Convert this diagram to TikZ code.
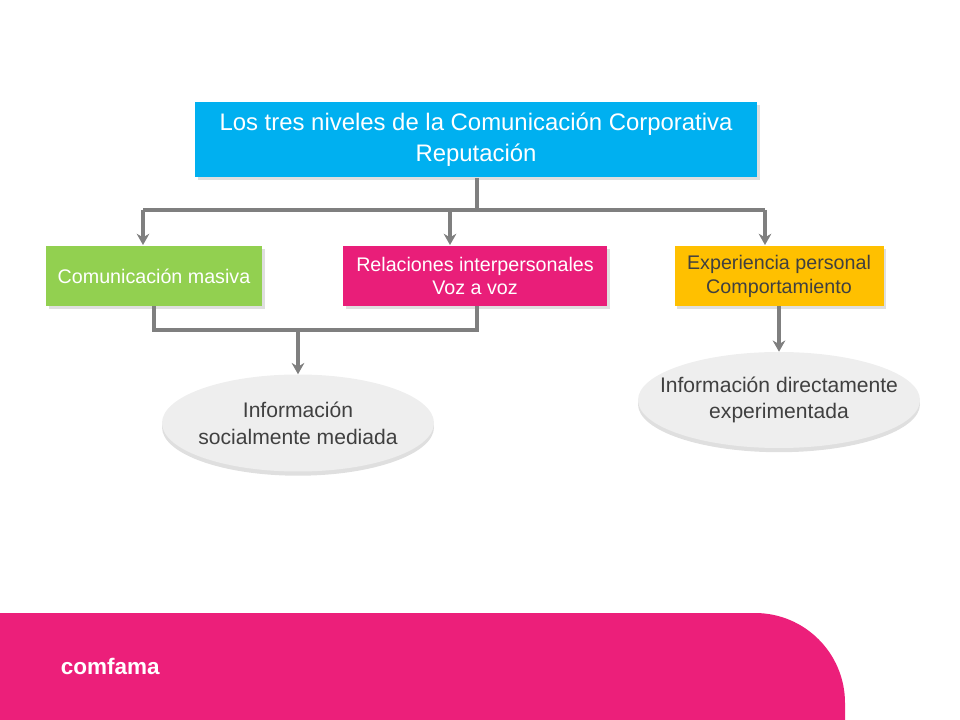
\documentclass[tikz,border=0pt]{standalone}
\usepackage{fontspec}
\setmainfont{Liberation Sans}
\usetikzlibrary{shapes.geometric, arrows.meta, positioning, shadows}
\definecolor{topcyan}{HTML}{00B0F0}
\definecolor{massgreen}{HTML}{92D050}
\definecolor{relpink}{HTML}{E91E79}
\definecolor{expgold}{HTML}{FFC000}
\definecolor{linegray}{HTML}{7F7F7F}
\definecolor{textgray}{HTML}{404040}
\definecolor{bandpink}{HTML}{EC1F7A}
\tikzset{
    levelbox/.style={
        rectangle, inner sep=2pt, align=center,
        drop shadow={shadow xshift=2pt, shadow yshift=-2pt, opacity=0.25},
        font=\fontsize{14}{17}\selectfont
    },
    infoell/.style={
        ellipse, fill=gray!13, inner sep=0pt,
        drop shadow={shadow xshift=0pt, shadow yshift=-3pt, opacity=0.25}
    },
    infotext/.style={
        align=center, text=textgray, inner sep=0pt,
        font=\fontsize{15}{19}\selectfont
    },
    wire/.style={draw=linegray, line width=2.6pt},
    arrowwire/.style={wire, -{Stealth[length=8pt, width=9pt]}}
}
\begin{document}
\begin{tikzpicture}[x=0.025cm, y=-0.025cm]
\useasboundingbox (0,0) rectangle (960,720);

% Bottom band and logo
\fill[bandpink] (0,613) -- (755,613) arc[start angle=-90, end angle=0, radius=90] -- (845,720) -- (0,720) -- cycle;
\node[text=white, font=\bfseries\fontsize{16}{16}\selectfont, anchor=west] (logo) at (56,666) {comfama};

% Top box
\node[levelbox, fill=topcyan, text=white, minimum width=562*0.025cm, minimum height=75*0.025cm,
      font=\fontsize{17}{22}\selectfont] (top) at (476,140)
      {Los tres niveles de la Comunicación Corporativa\\Reputación};

% Level boxes
\node[levelbox, fill=massgreen, text=white, minimum width=216*0.025cm, minimum height=60*0.025cm] (mass) at (154,276) {Comunicación masiva};
\node[levelbox, fill=relpink, text=white, minimum width=264*0.025cm, minimum height=60*0.025cm] (rel) at (475,276) {Relaciones interpersonales\\Voz a voz};
\node[levelbox, fill=expgold, text=textgray, minimum width=209*0.025cm, minimum height=60*0.025cm] (exp) at (779,276) {Experiencia personal\\Comportamiento};

% Information ellipses
\node[infoell, minimum width=272*0.025cm, minimum height=97*0.025cm] (social) at (298,423) {};
\node[infotext] (socialtext) at (social) {Información\\socialmente mediada};
\node[infoell, minimum width=282*0.025cm, minimum height=96*0.025cm] (direct) at (779,400) {};
\node[infotext] (directtext) at (direct) {Información directamente\\experimentada};

% Connectors
\coordinate (split) at (477,210);
\draw[wire] (top.south -| split) -- (split);
\draw[wire] (143,210) -- (765,210);
\draw[arrowwire] (143,210) -- (143,245);
\draw[arrowwire] (450,210) -- (450,245);
\draw[arrowwire] (765,210) -- (765,245);
\draw[wire] (mass.south) -- (154,330) -- (477,330) -- (477,306);
\draw[arrowwire] (298,330) -- (social.north);
\draw[arrowwire] (exp.south) -- (direct.north);

\end{tikzpicture}
\end{document}
